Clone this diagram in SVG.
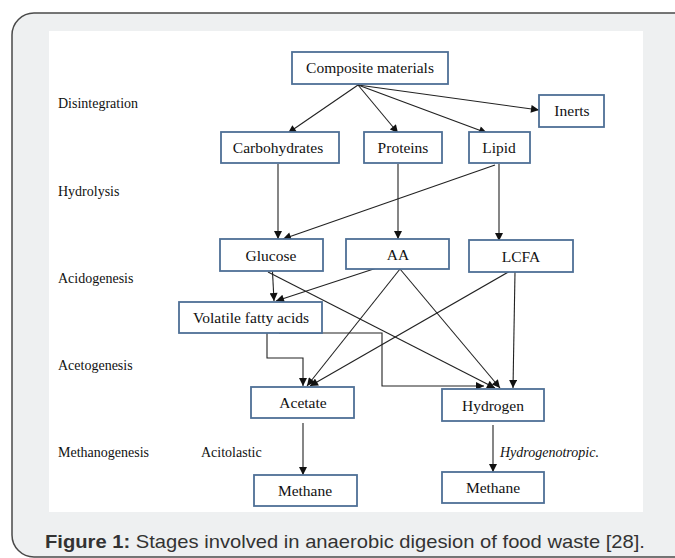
<svg xmlns="http://www.w3.org/2000/svg" width="675" height="558" viewBox="0 0 675 558">
<defs>
<marker id="ah" markerUnits="userSpaceOnUse" markerWidth="9" markerHeight="8" viewBox="0 0 10 10" refX="10" refY="5" orient="auto">
<path d="M0,0 L10,5 L0,10 z" fill="#111"/>
</marker>
<style>
.box{fill:#fff;stroke:#4e6f96;stroke-width:1.8}
.lbl{font-family:"Liberation Serif","Times New Roman",serif;font-size:15.5px;fill:#111;text-anchor:middle}
.stage{font-family:"Liberation Serif","Times New Roman",serif;font-size:14px;fill:#111}
.con{fill:none;stroke:#222;stroke-width:1.1;marker-end:url(#ah)}
.cap{font-family:"Liberation Sans",Arial,sans-serif;font-size:19px;fill:#333}
</style>
</defs>
<rect x="12" y="13" width="690" height="544" rx="22" ry="22" fill="#eef0f1" stroke="#4a4a4a" stroke-width="1.5"/>
<rect x="49" y="31" width="594" height="481" fill="#fff"/>

<g id="stages">
<text class="stage" x="58" y="108">Disintegration</text>
<text class="stage" x="58" y="196">Hydrolysis</text>
<text class="stage" x="58" y="283">Acidogenesis</text>
<text class="stage" x="58" y="370">Acetogenesis</text>
<text class="stage" x="58" y="457">Methanogenesis</text>
<text class="stage" x="201" y="457">Acitolastic</text>
<text class="stage" x="500" y="457" font-style="italic">Hydrogenotropic.</text>
</g>

<g id="connectors">
<line class="con" x1="358" y1="85" x2="288" y2="133"/>
<line class="con" x1="358" y1="85" x2="398" y2="133"/>
<line class="con" x1="358" y1="85" x2="487" y2="133"/>
<line class="con" x1="358" y1="85" x2="539" y2="110"/>
<line class="con" x1="278" y1="164" x2="278" y2="239"/>
<line class="con" x1="398" y1="164" x2="398" y2="239"/>
<line class="con" x1="499" y1="164" x2="499" y2="241"/>
<line class="con" x1="495" y1="165" x2="283" y2="239"/>
<line class="con" x1="272" y1="262" x2="274" y2="301"/>
<line class="con" x1="395" y1="262" x2="276" y2="301"/>
<line class="con" x1="268" y1="272" x2="495" y2="388"/>
<line class="con" x1="400" y1="269" x2="307" y2="386"/>
<line class="con" x1="400" y1="269" x2="500" y2="388"/>
<line class="con" x1="510" y1="271" x2="310" y2="386"/>
<line class="con" x1="515" y1="272" x2="513" y2="388"/>
<polyline class="con" points="267,330 267,358 303,358 303,386"/>
<polyline class="con" points="279,333 382,333 382,386 484,386"/>
<line class="con" x1="303" y1="423" x2="303" y2="475"/>
<line class="con" x1="493" y1="425" x2="493" y2="472"/>
</g>

<g id="composite"><rect class="box" x="292" y="52" width="156" height="32"/><text class="lbl" x="370" y="73">Composite materials</text></g>
<g id="inerts"><rect class="box" x="539" y="95" width="65" height="32"/><text class="lbl" x="572" y="116">Inerts</text></g>
<g id="carbohydrates"><rect class="box" x="221" y="132" width="118" height="31"/><text class="lbl" x="278" y="153">Carbohydrates</text></g>
<g id="proteins"><rect class="box" x="364" y="132" width="78" height="31"/><text class="lbl" x="403" y="153">Proteins</text></g>
<g id="lipid"><rect class="box" x="469" y="132" width="61" height="31"/><text class="lbl" x="499" y="153">Lipid</text></g>
<g id="glucose"><rect class="box" x="220" y="239" width="103" height="32"/><text class="lbl" x="271" y="261">Glucose</text></g>
<g id="aa"><rect class="box" x="346" y="239" width="103" height="30"/><text class="lbl" x="398" y="260">AA</text></g>
<g id="lcfa"><rect class="box" x="469" y="240" width="104" height="32"/><text class="lbl" x="521" y="262">LCFA</text></g>
<g id="vfa"><rect class="box" x="179" y="302" width="143" height="31"/><text class="lbl" x="251" y="323">Volatile fatty acids</text></g>
<g id="acetate"><rect class="box" x="251" y="387" width="103" height="31"/><text class="lbl" x="303" y="408">Acetate</text></g>
<g id="hydrogen"><rect class="box" x="442" y="389" width="102" height="32"/><text class="lbl" x="493" y="411">Hydrogen</text></g>
<g id="methane1"><rect class="box" x="254" y="475" width="103" height="31"/><text class="lbl" x="305" y="496">Methane</text></g>
<g id="methane2"><rect class="box" x="442" y="472" width="102" height="31"/><text class="lbl" x="493" y="493">Methane</text></g>

<text class="cap" x="45" y="548" textLength="600" lengthAdjust="spacingAndGlyphs"><tspan font-weight="bold">Figure 1:</tspan> Stages involved in anaerobic digesion of food waste [28].</text>
</svg>
